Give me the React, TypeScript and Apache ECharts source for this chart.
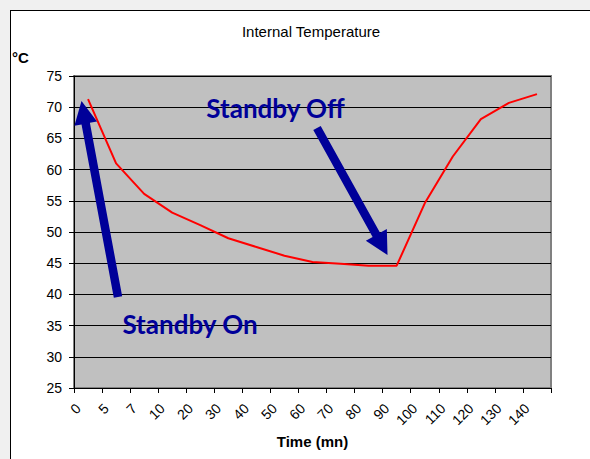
import React, { useEffect, useRef } from "react";
import * as echarts from "echarts";

const categories = ["0", "5", "7", "10", "20", "30", "40", "50", "60", "70", "80", "90", "100", "110", "120", "130", "140"];
const temperature = [71.3, 61.0, 56.1, 53.1, 51.1, 49.0, 47.6, 46.2, 45.2, 44.9, 44.6, 44.6, 54.6, 62.1, 68.1, 70.7, 72.1];
const yMin = 25;
const yMax = 75;
const yStep = 5;

type Pt = [number, number];

function arrowPoints(tail: Pt, tip: Pt, shaftW: number, headHalf: number, headL: number): Pt[] {
  const dx = tip[0] - tail[0];
  const dy = tip[1] - tail[1];
  const len = Math.sqrt(dx * dx + dy * dy);
  const ux = dx / len;
  const uy = dy / len;
  const nx = -uy;
  const ny = ux;
  const bx = tip[0] - ux * headL;
  const by = tip[1] - uy * headL;
  const s = shaftW / 2;
  return [
    [tail[0] + nx * s, tail[1] + ny * s],
    [bx + nx * s, by + ny * s],
    [bx + nx * headHalf, by + ny * headHalf],
    [tip[0], tip[1]],
    [bx - nx * headHalf, by - ny * headHalf],
    [bx - nx * s, by - ny * s],
    [tail[0] - nx * s, tail[1] - ny * s],
  ];
}

export default function App() {
  const ref = useRef<HTMLDivElement>(null);

  useEffect(() => {
    if (!ref.current) return;
    const chart = echarts.init(ref.current, undefined, { renderer: "svg" });
    const navy = "#000099";
    const font = "'Liberation Sans', Arial, sans-serif";
    chart.setOption({
      animation: false,
      backgroundColor: "transparent",
      title: {
        text: "Internal Temperature",
        left: 306,
        top: 19,
        textAlign: "center",
        textStyle: { fontFamily: font, fontSize: 15, fontWeight: "normal", color: "#000" },
      },
      grid: {
        left: 74,
        right: 39,
        top: 76,
        bottom: 71,
        show: true,
        backgroundColor: "#c0c0c0",
        borderColor: "#808080",
        borderWidth: 2,
      },
      xAxis: {
        type: "category",
        data: categories,
        boundaryGap: true,
        name: "Time (mn)",
        nameLocation: "middle",
        nameGap: 46,
        nameTextStyle: { fontFamily: font, fontSize: 15, fontWeight: "bold", color: "#000" },
        axisLine: { show: true, lineStyle: { color: "#000", width: 1 } },
        axisTick: { show: true, length: 5, alignWithLabel: false, lineStyle: { color: "#000" } },
        axisLabel: {
          rotate: 45,
          interval: 0,
          margin: 8,
          padding: [0, 14, 0, 0],
          fontFamily: font,
          fontSize: 14,
          color: "#000",
        },
        splitLine: { show: false },
      },
      yAxis: {
        type: "value",
        min: yMin,
        max: yMax,
        interval: yStep,
        axisLine: { show: true, lineStyle: { color: "#000", width: 1 } },
        axisTick: { show: true, length: 5, lineStyle: { color: "#000" } },
        axisLabel: { margin: 12, fontFamily: font, fontSize: 14, color: "#000" },
        splitLine: { show: true, lineStyle: { color: "#000", width: 1 } },
      },
      series: [
        {
          type: "line",
          data: temperature,
          showSymbol: false,
          symbol: "none",
          lineStyle: { color: "#ff0000", width: 2 },
          z: 3,
        },
      ],
      graphic: [
        {
          type: "text",
          left: 12,
          top: 50,
          style: { text: "°C", fontFamily: font, fontSize: 15, fontWeight: "bold", fill: "#000" },
        },
        {
          type: "polygon",
          z: 50,
          shape: { points: arrowPoints([118, 297], [81.5, 101], 8.5, 11.5, 23) },
          style: { fill: navy },
        },
        {
          type: "polygon",
          z: 50,
          shape: { points: arrowPoints([317, 128], [387.5, 255], 8.5, 12, 23) },
          style: { fill: navy },
        },
        {
          type: "text",
          z: 50,
          x: 275.5,
          y: 108,
          style: {
            text: "Standby Off",
            fontFamily: "Lato, 'Open Sans', sans-serif",
            fontWeight: "bold",
            fontSize: 26,
            fill: navy,
            align: "center",
            verticalAlign: "middle",
          },
        },
        {
          type: "text",
          z: 50,
          x: 190,
          y: 324,
          style: {
            text: "Standby On",
            fontFamily: "Lato, 'Open Sans', sans-serif",
            fontWeight: "bold",
            fontSize: 26,
            fill: navy,
            align: "center",
            verticalAlign: "middle",
          },
        },
      ],
    });
    return () => chart.dispose();
  }, []);

  return (
    <div
      style={{
        position: "fixed",
        left: 0,
        top: 0,
        width: 590,
        height: 459,
        background: "#f0f0f0",
        overflow: "hidden",
      }}
    >
      <div
        style={{
          position: "absolute",
          left: 10,
          top: 10,
          width: 640,
          height: 500,
          background: "#ffffff",
          border: "1.5px solid #000",
          boxSizing: "border-box",
        }}
      />
      <div ref={ref} style={{ position: "absolute", left: 0, top: 0, width: 590, height: 459 }} />
    </div>
  );
}
